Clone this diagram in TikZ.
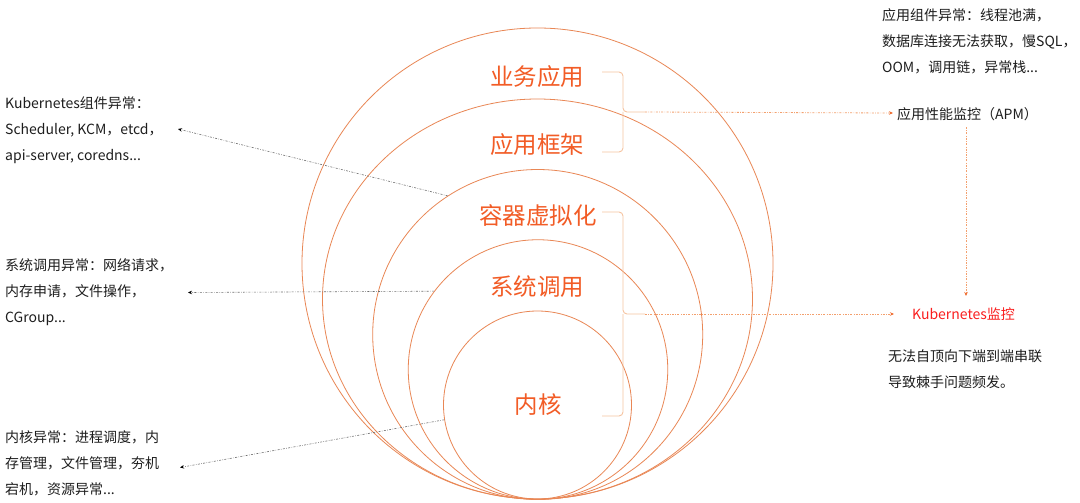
\documentclass[tikz,border=0pt]{standalone}
\usepackage{fontspec}
\setmainfont{Noto Sans CJK SC}
\usetikzlibrary{shapes.geometric,arrows.meta}
\definecolor{ring}{RGB}{233,135,85}
\definecolor{lbl}{RGB}{242,92,38}
\definecolor{brc}{RGB}{246,196,160}
\definecolor{rlink}{RGB}{243,160,110}
\definecolor{rtip}{RGB}{240,110,50}
\definecolor{glink}{RGB}{110,110,110}
\definecolor{kred}{RGB}{250,30,30}
\definecolor{txt}{RGB}{30,30,30}
\tikzset{
  ringc/.style={circle,draw=ring,line width=0.8pt,inner sep=0pt},
  ringe/.style={ellipse,draw=ring,line width=0.8pt,inner sep=0pt},
  layer/.style={text=lbl,font=\fontsize{23.5pt}{25pt}\selectfont,inner sep=0pt},
  note/.style={text=txt,font=\fontsize{14pt}{26pt}\selectfont,align=left,inner sep=0pt},
  bracec/.style={draw=brc,line width=0.9pt,rounded corners=4pt},
  rlinkc/.style={draw=rlink,line width=0.8pt,dash pattern=on 2pt off 1.4pt on 0.6pt off 1.4pt,-{Stealth[length=4pt,width=3.5pt,color=rtip]}},
  glinkc/.style={draw=glink,line width=0.6pt,dash pattern=on 2pt off 1.4pt on 0.6pt off 1.4pt,-{Stealth[length=4pt,width=3.5pt,color=black]}}
}
\begin{document}
\begin{tikzpicture}[x=1pt,y=-1pt]
\useasboundingbox[fill=white] (0,0) rectangle (1080,503);
% rings
\node[ringc,minimum size=471pt] (c1) at (537.5,263.5) {};
\node[ringe,minimum width=430pt,minimum height=400pt] (c2) at (537.5,299) {};
\node[ringc,minimum size=330pt] (c3) at (537.7,334.5) {};
\node[ringc,minimum size=259.5pt] (c4) at (538,369.5) {};
\node[ringc,minimum size=188pt] (c5) at (537.5,405) {};
% layer labels
\node[layer] (l1) at (537,77) {业务应用};
\node[layer] (l2) at (537,145) {应用框架};
\node[layer] (l3) at (538,215) {容器虚拟化};
\node[layer] (l4) at (537,287) {系统调用};
\node[layer] (l5) at (538,405) {内核};
% braces
\coordinate (b1) at (645,112);
\coordinate (b2) at (645,314);
\draw[bracec] (602,72) -- (623,72) -- (623,112) -- (b1);
\draw[bracec] (623,112) -- (623,152) -- (602,152);
\draw[bracec] (602,212) -- (623,212) -- (623,314) -- (b2);
\draw[bracec] (623,314) -- (623,416) -- (602,416);
% right side texts
\node[note,anchor=west] (appnote) at (882,41) {应用组件异常：线程池满，\\数据库连接无法获取，慢SQL，\\OOM，调用链，异常栈...};
\node[note,anchor=west] (apm) at (897,114) {应用性能监控（APM）};
\node[note,anchor=west,text=kred] (k8s) at (912,314) {Kubernetes监控};
\node[note,anchor=west] (k8snote) at (888,369) {无法自顶向下端到端串联\\导致棘手问题频发。};
% right connectors
\coordinate (k8sin) at (894,314);
\coordinate (apmin) at (893,113);
\draw[rlinkc] (b1) -- (apmin);
\draw[rlinkc] (b2) -- (k8sin);
\draw[rlinkc] (966,127) -- (966,296);
% left texts
\node[note,anchor=west] (n1) at (5,130) {Kubernetes组件异常：\\Scheduler, KCM，etcd，\\api-server, coredns...};
\node[note,anchor=west] (n2) at (5,292) {系统调用异常：网络请求，\\内存申请，文件操作，\\CGroup...};
\node[note,anchor=west] (n3) at (5,463) {内核异常：进程调度，内\\存管理，文件管理，夯机\\宕机，资源异常...};
% left connectors
\coordinate (e1) at (178,129);
\coordinate (e2) at (188,292.5);
\coordinate (e3) at (180,467.5);
\draw[glinkc] (c3.123) -- (e1);
\draw[glinkc] (c4.143.5) -- (e2);
\draw[glinkc] (c5.189.4) -- (e3);
\end{tikzpicture}
\end{document}
